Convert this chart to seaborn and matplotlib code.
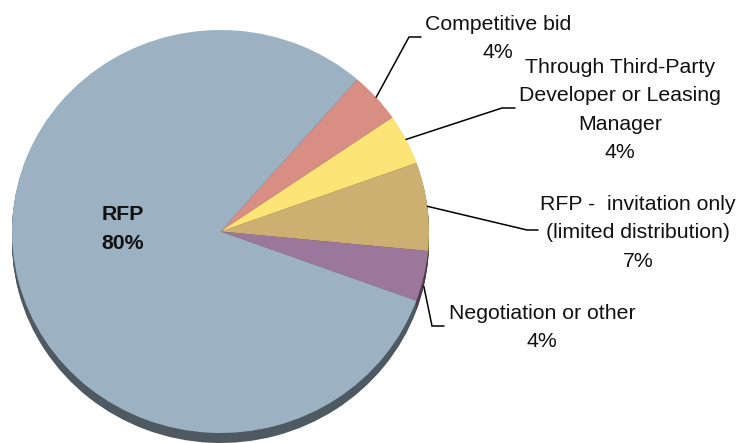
import numpy as np
import matplotlib
matplotlib.use("Agg")
import matplotlib.pyplot as plt
import seaborn as sns

# Procurement method shares (percent), listed clockwise from the top-right
categories = [
    "Competitive bid",
    "Through Third-Party\nDeveloper or Leasing\nManager",
    "RFP -  invitation only\n(limited distribution)",
    "Negotiation or other",
    "RFP",
]
shares = [4, 4, 7, 4, 80]
colors = ["#D98E84", "#FCE476", "#CDAF71", "#9B779C", "#9CB2C2"]

sns.set_theme(style="white")
plt.rcParams["font.family"] = ["Liberation Sans", "DejaVu Sans"]

W, H = 739, 443
fig = plt.figure(figsize=(W / 100, H / 100), dpi=100)
ax = fig.add_axes([0, 0, 1, 1])

# Pie geometry in pixel units (slightly flattened ellipse with extruded rim)
cx, cy = 220.5, 231.5
rx, ry = 208.5, 201.5
depth = 10
k = rx / ry  # vertical squash factor


def to_data(px, py):
    return px, (H - py) * k


start = 49
center = to_data(cx, cy)

# Extruded side: stacked darker copies shifted downward
dark = [tuple(0.5 * c for c in matplotlib.colors.to_rgb(col)) for col in colors]
for s in np.arange(depth, 0, -1):
    ax.pie(shares, colors=dark, startangle=start, counterclock=False,
           radius=rx, center=to_data(cx, cy + s),
           wedgeprops=dict(linewidth=0), frame=True)

# Top face
wedges, _ = ax.pie(shares, colors=colors, startangle=start, counterclock=False,
                   radius=rx, center=center,
                   wedgeprops=dict(linewidth=0), frame=True)

ax.set_aspect("auto")
ax.set_xlim(0, W)
ax.set_ylim(0, H * k)
ax.axis("off")

label_font = dict(fontsize=15.3, color="#111111")

# Outer labels: text block centre and elbow of the leader line (pixels)
outer = {
    0: dict(text=(498, 38.5), elbow=(409, 37), end=(421, 37)),
    1: dict(text=(620, 110), elbow=(502, 108), end=(515, 108)),
    2: dict(text=(638, 233), elbow=(527, 230), end=(538, 230)),
    3: dict(text=(542, 327.5), elbow=(432, 326), end=(444, 326)),
}

for i, spec in outer.items():
    w = wedges[i]
    mid = np.deg2rad((w.theta1 + w.theta2) / 2)
    sx = cx + rx * np.cos(mid)
    sy = cy - ry * np.sin(mid)
    if np.sin(mid) < 0:
        sy += depth  # lower slices: leader meets the rim
    pts = [to_data(sx, sy), to_data(*spec["elbow"]), to_data(*spec["end"])]
    xs, ys = zip(*pts)
    ax.plot(xs, ys, color="black", linewidth=1.1, solid_joinstyle="miter")
    tx, ty = to_data(*spec["text"])
    ax.text(tx, ty, f"{categories[i]}\n{shares[i]}%", ha="center", va="center",
            multialignment="center", linespacing=1.64, **label_font)

# Inner label for the dominant slice
tx, ty = to_data(123, 229)
ax.text(tx, ty, f"{categories[4]}\n{shares[4]}%", ha="center", va="center",
        multialignment="center", linespacing=1.62, fontweight="bold", **label_font)

fig.savefig("out.png", dpi=100)
